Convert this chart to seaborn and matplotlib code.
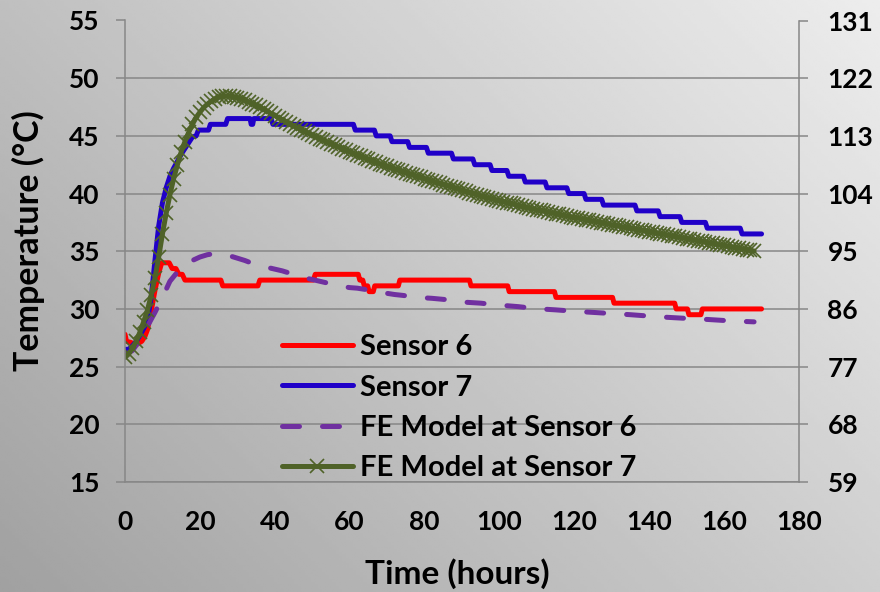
import numpy as np
import pandas as pd
import matplotlib
matplotlib.use("Agg")
import matplotlib.pyplot as plt
import seaborn as sns

# ---------------------------------------------------------------- data
# Measured temperature at sensor 6 (hours, deg C)
sensor6_time = [0, 0.4, 1.5, 3.0, 4.5, 5.3, 6.0, 7.0, 8.0, 9.0, 9.8, 11.8, 12.6, 13.6,
                14.4, 15.3, 16.0, 25.6, 26.1, 35.5, 36.0, 50.3, 50.8, 62.3, 62.7, 63.5,
                63.9, 64.8, 65.2, 66.3, 66.7, 73.0, 73.4, 92.0, 92.4, 102.2, 102.6,
                114.7, 115.1, 130.2, 130.6, 146.8, 147.2, 150.2, 150.6, 153.8, 154.2, 170.0]
sensor6_temp = [27.8, 27.2, 27.1, 26.9, 27.2, 27.6, 28.2, 29.8, 31.6, 33.1, 34.0, 34.0, 33.5, 33.5,
                33.0, 33.0, 32.5, 32.5, 32.0, 32.0, 32.5, 32.5, 33.0, 33.0, 32.5, 32.5,
                32.0, 32.0, 31.5, 31.5, 32.0, 32.0, 32.5, 32.5, 32.0, 32.0, 31.5,
                31.5, 31.0, 31.0, 30.5, 30.5, 30.0, 30.0, 29.5, 29.5, 30.0, 30.0]

# Measured temperature at sensor 7 (hours, deg C)
sensor7_time = [0, 1, 2, 3, 4, 5, 6, 7, 8, 9, 10, 11, 12, 13, 14, 15, 16, 17, 18, 19,
                19.6, 22.3, 22.8, 26.9, 27.4, 33.4, 33.7, 34.1, 34.4, 39.0, 39.5, 61.0,
                61.5, 66.6, 67.1, 70.8, 71.3, 75.5, 76.0, 80.5, 81.0, 87.2, 87.7, 92.9,
                93.4, 97.5, 98.0, 102.0, 102.5, 106.4, 106.9, 112.2, 112.7, 118.0, 118.5,
                122.6, 123.1, 127.3, 127.8, 136.2, 136.7, 142.4, 142.9, 148.2, 148.7,
                155.0, 155.5, 164.3, 164.8, 170.0]
sensor7_temp = [26.5, 26.5, 26.8, 27.2, 27.7, 28.3, 29.0, 31.0, 34.2, 37.2, 39.2, 40.5, 41.5, 42.2, 42.8, 43.4, 43.9, 44.4, 44.9, 45.0,
                45.5, 45.5, 46.0, 46.0, 46.5, 46.5, 46.0, 46.0, 46.5, 46.5, 46.0, 46.0,
                45.5, 45.5, 45.0, 45.0, 44.5, 44.5, 44.0, 44.0, 43.5, 43.5, 43.0, 43.0,
                42.5, 42.5, 42.0, 42.0, 41.5, 41.5, 41.0, 41.0, 40.5, 40.5, 40.0,
                40.0, 39.5, 39.5, 39.0, 39.0, 38.5, 38.5, 38.0, 38.0, 37.5,
                37.5, 37.0, 37.0, 36.5, 36.5]

# Finite-element prediction at sensor 6
fe6_time = [0, 2, 4, 6, 8, 10, 12, 14, 16, 18, 20, 22, 24, 26, 28, 30, 32, 34, 36, 38,
            40, 42, 44, 46, 48, 50, 52, 54, 56, 58, 60, 62, 64, 66, 68, 70, 72, 74, 76,
            78, 82, 86, 90, 95, 100, 105, 110, 115, 120, 125, 130, 135, 140, 145, 150,
            155, 160, 165, 168]
fe6_temp = [26.0, 26.4, 27.3, 28.5, 29.7, 31.0, 32.4, 33.2, 33.8, 34.2, 34.5, 34.7, 34.8, 34.75, 34.6, 34.4, 34.2, 33.95, 33.75, 33.6,
            33.45, 33.3, 33.1, 32.9, 32.7, 32.55, 32.4, 32.25, 32.05, 31.95, 31.85, 31.8, 31.7, 31.55, 31.45, 31.35, 31.25, 31.18, 31.1,
            31.0, 30.92, 30.8, 30.6, 30.5, 30.33, 30.2, 30.02, 29.92, 29.8, 29.7, 29.6, 29.5, 29.38, 29.27, 29.18,
            29.1, 29.0, 28.92, 28.88]

# Finite-element prediction at sensor 7 (hourly output)
fe7_time = list(range(0, 169))
fe7_temp = [25.8, 26.1, 26.6, 27.2, 28.0, 28.9, 29.9, 31.2, 32.7, 34.5,
            36.5, 38.3, 39.9, 41.3, 42.5, 43.6, 44.5, 45.3, 46.0, 46.6,
            47.05, 47.45, 47.75, 48.0, 48.2, 48.35, 48.42, 48.45, 48.43, 48.38,
            48.3, 48.2, 48.08, 47.95, 47.8, 47.64, 47.47, 47.3, 47.12, 46.94,
            46.76, 46.58, 46.4, 46.22, 46.05, 45.88, 45.71, 45.55, 45.39, 45.23,
            45.07, 44.92, 44.77, 44.62, 44.47, 44.32, 44.18, 44.04, 43.9, 43.76,
            43.62, 43.48, 43.35, 43.22, 43.09, 42.96, 42.83, 42.7, 42.57, 42.45,
            42.35, 42.24, 42.14, 42.03, 41.93, 41.82, 41.72, 41.61, 41.5, 41.4,
            41.29, 41.19, 41.08, 40.98, 40.88, 40.78, 40.68, 40.58, 40.48, 40.38,
            40.28, 40.18, 40.08, 39.98, 39.88, 39.78, 39.7, 39.62, 39.54, 39.46,
            39.38, 39.3, 39.22, 39.14, 39.06, 38.98, 38.9, 38.82, 38.74, 38.67,
            38.6, 38.54, 38.47, 38.4, 38.33, 38.26, 38.2, 38.13, 38.06, 37.99,
            37.92, 37.86, 37.8, 37.74, 37.67, 37.61, 37.55, 37.49, 37.43, 37.37,
            37.3, 37.24, 37.18, 37.12, 37.06, 37.0, 36.94, 36.88, 36.82, 36.76,
            36.7, 36.64, 36.58, 36.52, 36.46, 36.4, 36.34, 36.28, 36.22, 36.16,
            36.1, 36.04, 35.98, 35.92, 35.86, 35.8, 35.74, 35.68, 35.62, 35.56,
            35.5, 35.44, 35.38, 35.32, 35.26, 35.2, 35.14, 35.08, 35.02]

series_labels = ["Sensor 6", "Sensor 7", "FE Model at Sensor 6", "FE Model at Sensor 7"]
x_ticks = [0, 20, 40, 60, 80, 100, 120, 140, 160, 180]
y_ticks_c = [15, 20, 25, 30, 35, 40, 45, 50, 55]
y_ticks_f = [59, 68, 77, 86, 95, 104, 113, 122, 131]

# ---------------------------------------------------------------- style
sns.set_theme(style="white")
plt.rcParams["font.family"] = ["Lato", "DejaVu Sans"]
plt.rcParams["font.weight"] = "bold"

GRID = "#878787"
GREEN = "#4F6228"
fig = plt.figure(figsize=(8.8, 5.92), dpi=100)

# grey diagonal gradient behind everything
bg = fig.add_axes([0, 0, 1, 1], zorder=-10)
gx = np.linspace(0, 1, 256)
gy = np.linspace(0, 1, 256)
GX, GY = np.meshgrid(gx, gy)  # GY = 0 at top row
tl, tr, bl, br = 0.75, 0.93, 0.63, 0.81
grad = (tl * (1 - GX) * (1 - GY) + tr * GX * (1 - GY)
        + bl * (1 - GX) * GY + br * GX * GY)
bg.imshow(grad, cmap="gray", vmin=0, vmax=1, aspect="auto", interpolation="bilinear")
bg.set_axis_off()

ax = fig.add_axes([125 / 880, 1 - 482 / 592, 674 / 880, 461.5 / 592])
ax.set_facecolor("none")

line_kw = dict(lw=3.6, solid_capstyle="round", solid_joinstyle="round")
df6 = pd.DataFrame({"t": sensor6_time, "T": sensor6_temp})
df7 = pd.DataFrame({"t": sensor7_time, "T": sensor7_temp})
dfe6 = pd.DataFrame({"t": fe6_time, "T": fe6_temp})
dfe7 = pd.DataFrame({"t": fe7_time, "T": fe7_temp})

sns.lineplot(data=df6, x="t", y="T", ax=ax, color="#FF0000", label=series_labels[0],
             sort=False, estimator=None, **line_kw)
sns.lineplot(data=df7, x="t", y="T", ax=ax, color="#2000C8", label=series_labels[1],
             sort=False, estimator=None, **line_kw)
sns.lineplot(data=dfe6, x="t", y="T", ax=ax, color="#7030A0", label=series_labels[2],
             sort=False, estimator=None, lw=3.6, linestyle=(0, (3.4, 4.6)),
             dash_capstyle="round")
sns.lineplot(data=dfe7, x="t", y="T", ax=ax, color=GREEN, label=series_labels[3],
             sort=False, estimator=None, marker="x", markersize=9.5,
             markeredgewidth=1.2, markeredgecolor=GREEN, markerfacecolor=GREEN,
             **line_kw)

ax.set_xlim(0, 180)
ax.set_ylim(15, 55)
ax.set_xticks(x_ticks)
ax.set_yticks(y_ticks_c)
ax.yaxis.grid(True, color=GRID, lw=1.1)
ax.xaxis.grid(False)
for s in ["top", "right"]:
    ax.spines[s].set_visible(False)
for s in ["left", "bottom"]:
    ax.spines[s].set_color(GRID)
    ax.spines[s].set_linewidth(1.1)
ax.tick_params(axis="both", which="major", direction="out", length=6.5, width=1.1,
               color=GRID, labelsize=19, labelcolor="black")
ax.tick_params(axis="y", pad=12)
ax.tick_params(axis="x", pad=14)
for lab in ax.get_xticklabels() + ax.get_yticklabels():
    lab.set_fontweight("bold")

ax.set_xlabel("Time (hours)", fontsize=24, fontweight="bold", color="black")
ax.set_ylabel("Temperature (\u00b0C)", fontsize=24.5, fontweight="bold", color="black")
ax.xaxis.set_label_coords(0.493, -0.165)
ax.yaxis.set_label_coords(-0.118, 0.524)

# Fahrenheit axis on the right
ax2 = ax.twinx()
ax2.set_ylim(59, 131)
ax2.set_yticks(y_ticks_f)
for s in ["top", "left", "bottom"]:
    ax2.spines[s].set_visible(False)
ax2.spines["right"].set_color(GRID)
ax2.spines["right"].set_linewidth(1.1)
ax2.tick_params(axis="y", direction="out", length=6.5, width=1.1, color=GRID,
                labelsize=19, labelcolor="black", pad=14)
for lab in ax2.get_yticklabels():
    lab.set_fontweight("bold")
ax2.grid(False)

leg = ax.legend(loc="upper left", bbox_to_anchor=(0.233, 0.320), frameon=False,
                handlelength=2.43, handletextpad=0.24, labelspacing=0.49,
                borderpad=0, borderaxespad=0, prop={"weight": "bold", "size": 21})
for txt in leg.get_texts():
    txt.set_color("black")

fig.savefig("out.png", dpi=100)
